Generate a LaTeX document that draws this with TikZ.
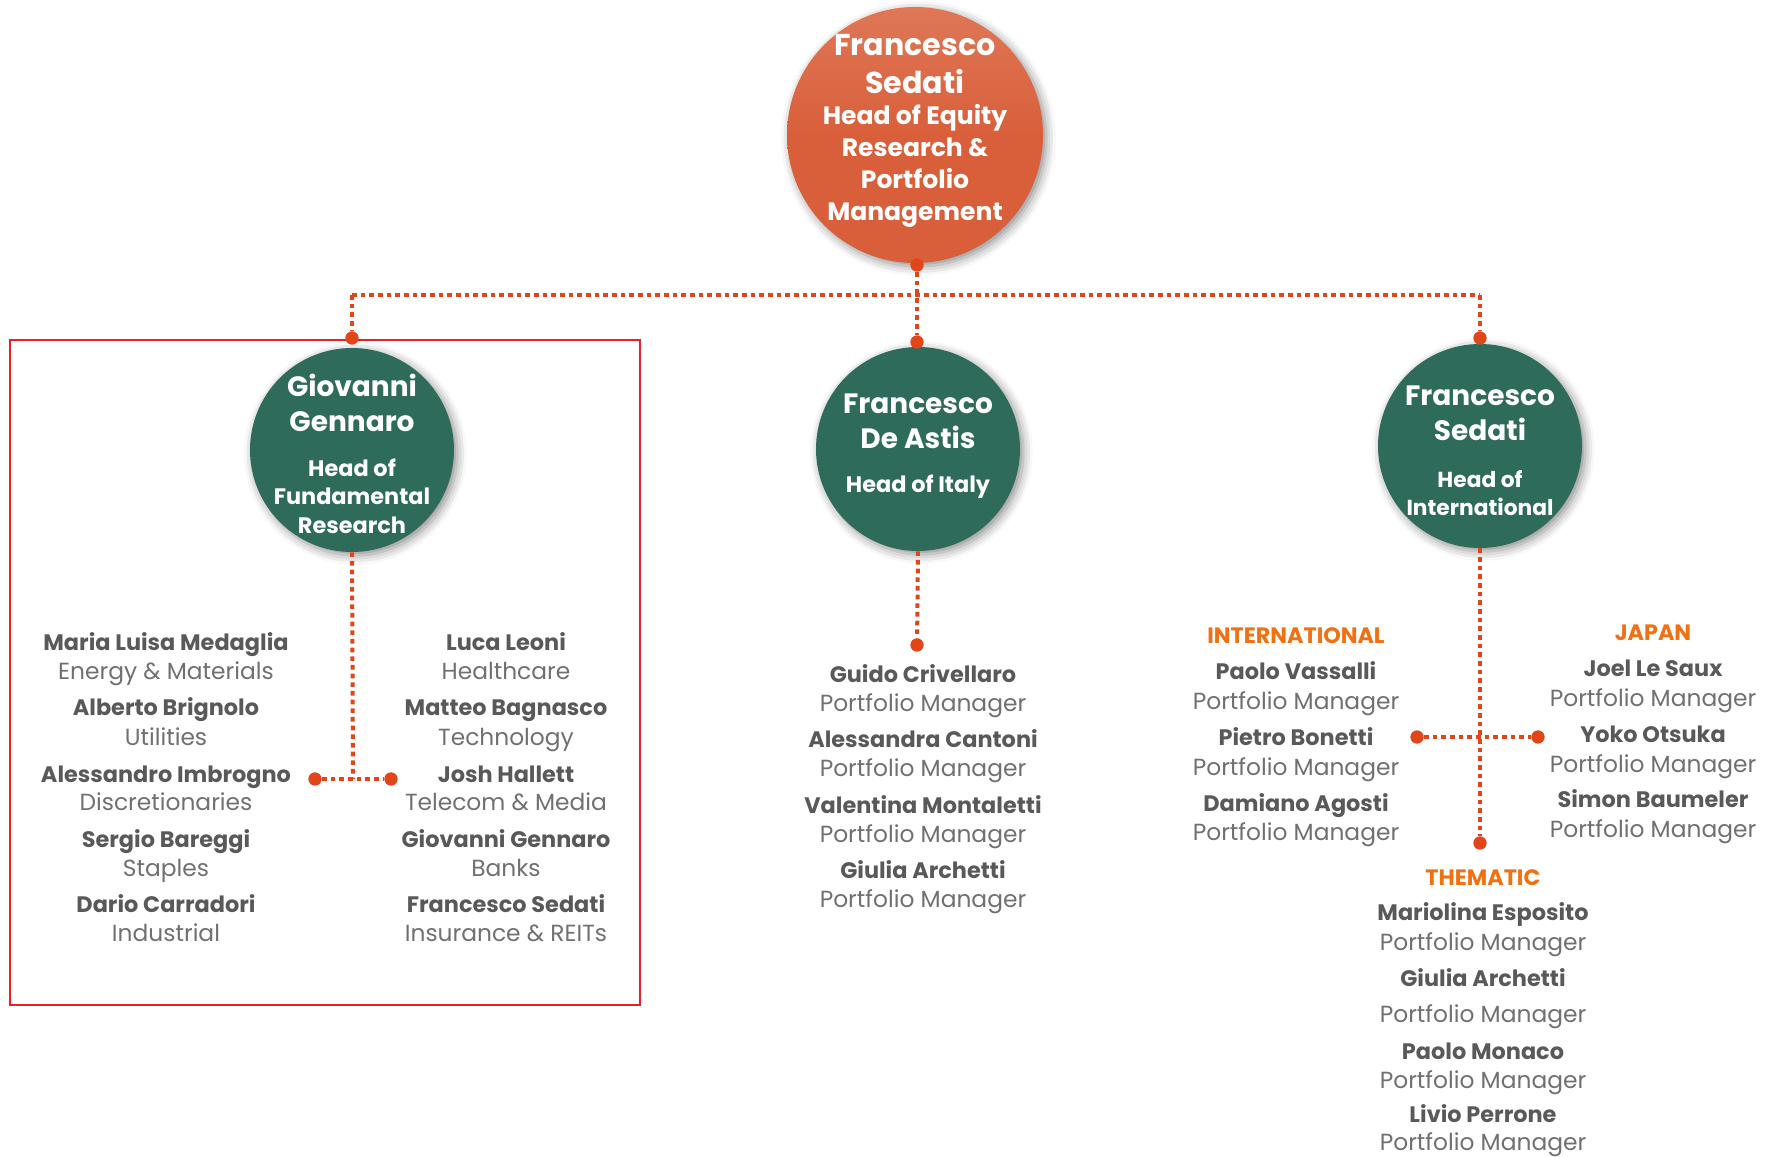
\documentclass[tikz,border=0pt]{standalone}
\usepackage{fontspec}
\setmainfont{Poppins}
\usetikzlibrary{shadows.blur}
\definecolor{headorange}{HTML}{D95F3A}
\definecolor{teamgreen}{HTML}{2E6B5B}
\definecolor{linkred}{HTML}{E0461A}
\definecolor{namegray}{HTML}{595959}
\definecolor{rolegray}{HTML}{707070}
\definecolor{deskorange}{HTML}{F07012}
\definecolor{boxred}{HTML}{E8202A}
\tikzset{
  bubble/.style={circle, inner sep=0pt, minimum size=#1,
    blur shadow={shadow xshift=2.5pt, shadow yshift=-2.5pt, shadow blur radius=7pt, shadow opacity=45}},
  bubbletext/.style={text=white, align=center, inner sep=0pt, font=\bfseries},
  link/.style={linkred, line width=3pt, dash pattern=on 3.5pt off 3pt},
  dot/.style={circle, fill=linkred, inner sep=0pt, minimum size=10pt},
  person/.style={text=namegray, font=\bfseries\fontsize{16.8}{20}\selectfont, inner sep=0pt, text height=12pt, text depth=0pt},
  role/.style={text=rolegray, font=\fontsize{17.5}{20}\selectfont, inner sep=0pt, text height=12pt, text depth=0pt},
  desk/.style={text=deskorange, font=\bfseries\fontsize{16.7}{20}\selectfont, inner sep=0pt, text height=12pt, text depth=0pt},
}
\begin{document}
\begin{tikzpicture}[x=0.75pt, y=-0.75pt]
\useasboundingbox (0,0) rectangle (1775,1157);

% head of equity research
\node[bubble=192pt, top color=headorange!85!white, bottom color=headorange, middle color=headorange] (ceo) at (915,135) {};
\node[bubbletext, font=\bfseries\fontsize{22.6}{29}\selectfont] (ceoname) at (915,64) {Francesco\\Sedati};
\node[bubbletext, font=\bfseries\fontsize{18.8}{24}\selectfont] (ceorole) at (915,166) {Head of Equity\\Research \&\\Portfolio\\Management};

% heads of area
\node[bubble=153pt, fill=teamgreen] (fund) at (352,450) {};
\node[bubbletext, font=\bfseries\fontsize{21}{26}\selectfont] (fundname) at (352,403) {Giovanni\\Gennaro};
\node[bubbletext, font=\bfseries\fontsize{16.8}{21.5}\selectfont] (fundrole) at (352,496) {Head of\\Fundamental\\Research};

\node[bubble=153pt, fill=teamgreen] (italy) at (918,449) {};
\node[bubbletext, font=\bfseries\fontsize{21}{26}\selectfont] (italyname) at (918,421) {Francesco\\De Astis};
\node[bubbletext, font=\bfseries\fontsize{16.8}{21.5}\selectfont] (italyrole) at (918,487) {Head of Italy};

\node[bubble=153pt, fill=teamgreen] (intl) at (1480,446) {};
\node[bubbletext, font=\bfseries\fontsize{21}{26}\selectfont] (intlname) at (1480,413) {Francesco\\Sedati};
\node[bubbletext, font=\bfseries\fontsize{16.3}{21.5}\selectfont] (intlrole) at (1480,493) {Head of\\International};

% frame around fundamental research
\draw[boxred, line width=1.3pt] (10,340) rectangle (640,1005);

% top level connectors
\node[dot] (ceodot) at (917,265) {};
\coordinate (barleft) at (352,295);
\coordinate (barmid) at (917,295);
\coordinate (barright) at (1480,295);
\node[dot] (funddot) at (352,338) {};
\node[dot] (italydot) at (917,342) {};
\node[dot] (intldot) at (1480,338) {};
\draw[link] (barleft) -- (barright);
\draw[link] (ceodot) -- (italydot);
\draw[link] (barleft) -- (funddot);
\draw[link] (barright) -- (intldot);

% fundamental research analysts
\coordinate (fundjoin) at (353,779);
\node[dot] (fundl) at (315,779) {};
\node[dot] (fundr) at (391,779) {};
\draw[link] (fund.south) -- (fundjoin);
\draw[link] (fundl) -- (fundr);

\node[person] (p1) at (166,642) {Maria Luisa Medaglia};
\node[role]   (r1) at (166,671) {Energy \& Materials};
\node[person] (p2) at (166,707) {Alberto Brignolo};
\node[role]   (r2) at (166,737) {Utilities};
\node[person] (p3) at (166,774) {Alessandro Imbrogno};
\node[role]   (r3) at (166,802) {Discretionaries};
\node[person] (p4) at (166,839) {Sergio Bareggi};
\node[role]   (r4) at (166,868) {Staples};
\node[person] (p5) at (166,904) {Dario Carradori};
\node[role]   (r5) at (166,933) {Industrial};

\node[person] (p6) at (506,642) {Luca Leoni};
\node[role]   (r6) at (506,671) {Healthcare};
\node[person] (p7) at (506,707) {Matteo Bagnasco};
\node[role]   (r7) at (506,737) {Technology};
\node[person] (p8) at (506,774) {Josh Hallett};
\node[role]   (r8) at (506,802) {Telecom \& Media};
\node[person] (p9) at (506,839) {Giovanni Gennaro};
\node[role]   (r9) at (506,868) {Banks};
\node[person] (p10) at (506,904) {Francesco Sedati};
\node[role]   (r10) at (506,933) {Insurance \& REITs};

% italy portfolio managers
\node[dot] (italyend) at (917,645) {};
\draw[link] (italy.south) -- (italyend);
\node[person] (i1) at (923,674) {Guido Crivellaro};
\node[role]   (i1r) at (923,703) {Portfolio Manager};
\node[person] (i2) at (923,739) {Alessandra Cantoni};
\node[role]   (i2r) at (923,768) {Portfolio Manager};
\node[person] (i3) at (923,805) {Valentina Montaletti};
\node[role]   (i3r) at (923,834) {Portfolio Manager};
\node[person] (i4) at (923,870) {Giulia Archetti};
\node[role]   (i4r) at (923,899) {Portfolio Manager};

% international desks
\node[dot] (intlend) at (1480,843) {};
\coordinate (intljoin) at (1480,737);
\node[dot] (intll) at (1417,737) {};
\node[dot] (intlr) at (1538,737) {};
\draw[link] (intl.south) -- (intlend);
\draw[link] (intll) -- (intlr);

\node[desk]   (dintl) at (1296,635) {INTERNATIONAL};
\node[person] (n1) at (1296,671) {Paolo Vassalli};
\node[role]   (n1r) at (1296,701) {Portfolio Manager};
\node[person] (n2) at (1296,737) {Pietro Bonetti};
\node[role]   (n2r) at (1296,767) {Portfolio Manager};
\node[person] (n3) at (1296,803) {Damiano Agosti};
\node[role]   (n3r) at (1296,832) {Portfolio Manager};

\node[desk]   (djp) at (1653,632) {JAPAN};
\node[person] (j1) at (1653,668) {Joel Le Saux};
\node[role]   (j1r) at (1653,698) {Portfolio Manager};
\node[person] (j2) at (1653,734) {Yoko Otsuka};
\node[role]   (j2r) at (1653,764) {Portfolio Manager};
\node[person] (j3) at (1653,799) {Simon Baumeler};
\node[role]   (j3r) at (1653,829) {Portfolio Manager};

\node[desk]   (dth) at (1483,877) {THEMATIC};
\node[person] (t1) at (1483,912) {Mariolina Esposito};
\node[role]   (t1r) at (1483,942) {Portfolio Manager};
\node[person] (t2) at (1483,978) {Giulia Archetti};
\node[role]   (t2r) at (1483,1014) {Portfolio Manager};
\node[person] (t3) at (1483,1051) {Paolo Monaco};
\node[role]   (t3r) at (1483,1080) {Portfolio Manager};
\node[person] (t4) at (1483,1114) {Livio Perrone};
\node[role]   (t4r) at (1483,1142) {Portfolio Manager};
\end{tikzpicture}
\end{document}
